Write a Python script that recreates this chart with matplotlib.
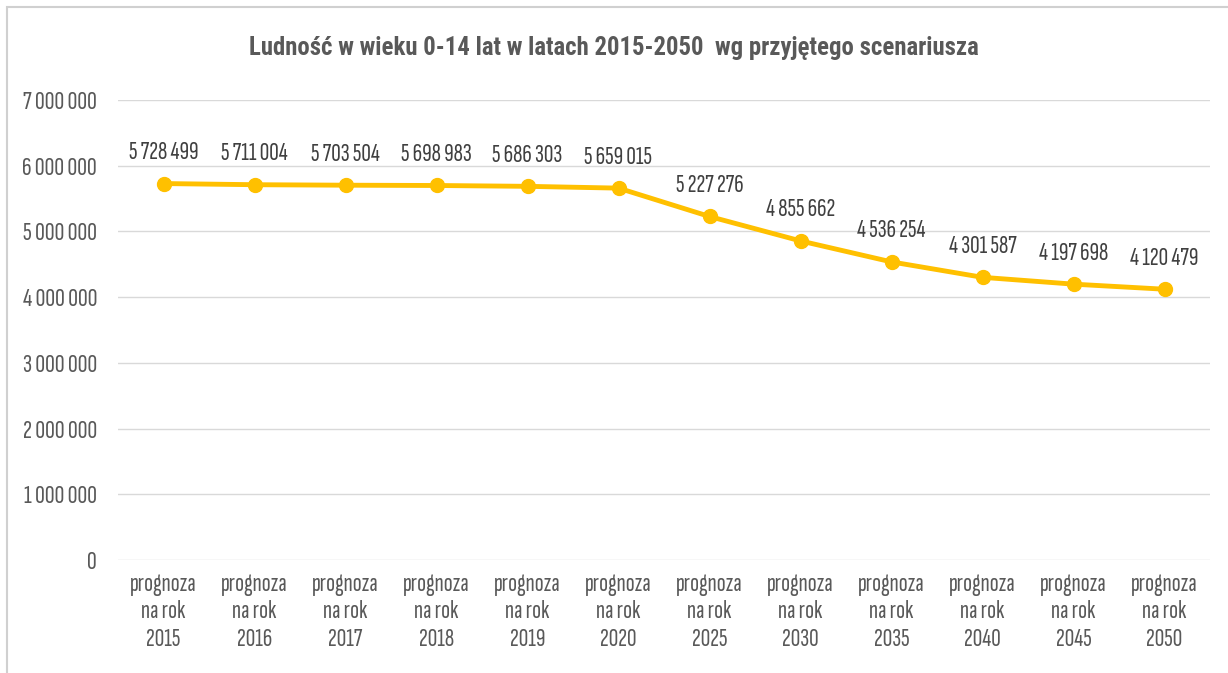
import matplotlib
matplotlib.use('Agg')
import matplotlib.pyplot as plt
from matplotlib.ticker import FuncFormatter
from matplotlib.patches import Rectangle

plt.rcParams['font.family'] = ['Sofia Sans Extra Condensed', 'Roboto Condensed', 'DejaVu Sans']

# dane
lata = ['2015', '2016', '2017', '2018', '2019', '2020',
        '2025', '2030', '2035', '2040', '2045', '2050']
ludnosc = [5728499, 5711004, 5703504, 5698983, 5686303, 5659015,
           5227276, 4855662, 4536254, 4301587, 4197698, 4120479]
etykiety = ['prognoza\nna rok\n' + r for r in lata]


def pl_format(v):
    # separator tysięcy jako spacja
    return f'{int(v):,}'.replace(',', ' ')


fig = plt.figure(figsize=(12.28, 6.73), dpi=100)
ax = fig.add_axes([118 / 1228, 1 - 560 / 673, 1092 / 1228, 460 / 673])

# ramka wykresu
fig.patches.append(Rectangle((7 / 1228, -0.01), 1.1, 1 - 7 / 673 + 0.01,
                             transform=fig.transFigure, fill=False,
                             edgecolor='#D0D0D0', linewidth=1.5))

x = list(range(len(lata)))
ax.plot(x, ludnosc, color='#FFC000', linewidth=3.5, marker='o',
        markersize=10, solid_capstyle='round', zorder=3)

for xi, v in zip(x, ludnosc):
    ax.annotate(pl_format(v), (xi, v), xytext=(0, 14), textcoords='offset points',
                ha='center', va='bottom', fontsize=19, color='#404040')

ax.set_xlim(-0.5, len(lata) - 0.5)
ax.set_ylim(0, 7000000)
ax.set_yticks(range(0, 7000001, 1000000))
ax.yaxis.set_major_formatter(FuncFormatter(lambda v, p: pl_format(v)))
ax.set_xticks(x)
ax.set_xticklabels(etykiety, fontsize=19, color='#595959', linespacing=1.25)
ax.tick_params(axis='y', labelsize=19.5, labelcolor='#595959', length=0, pad=15)
ax.tick_params(axis='x', length=0, pad=9)

ax.grid(axis='y', color='#D9D9D9', linewidth=1)
ax.set_axisbelow(True)
for s in ax.spines.values():
    s.set_visible(False)

fig.text(0.5, 1 - 48 / 673, 'Ludność w wieku 0-14 lat w latach 2015-2050  wg przyjętego scenariusza',
         ha='center', va='center', fontsize=17.8, fontweight='bold', color='#595959',
         family=['Roboto Condensed', 'DejaVu Sans'])

fig.savefig('out.png', dpi=100)
